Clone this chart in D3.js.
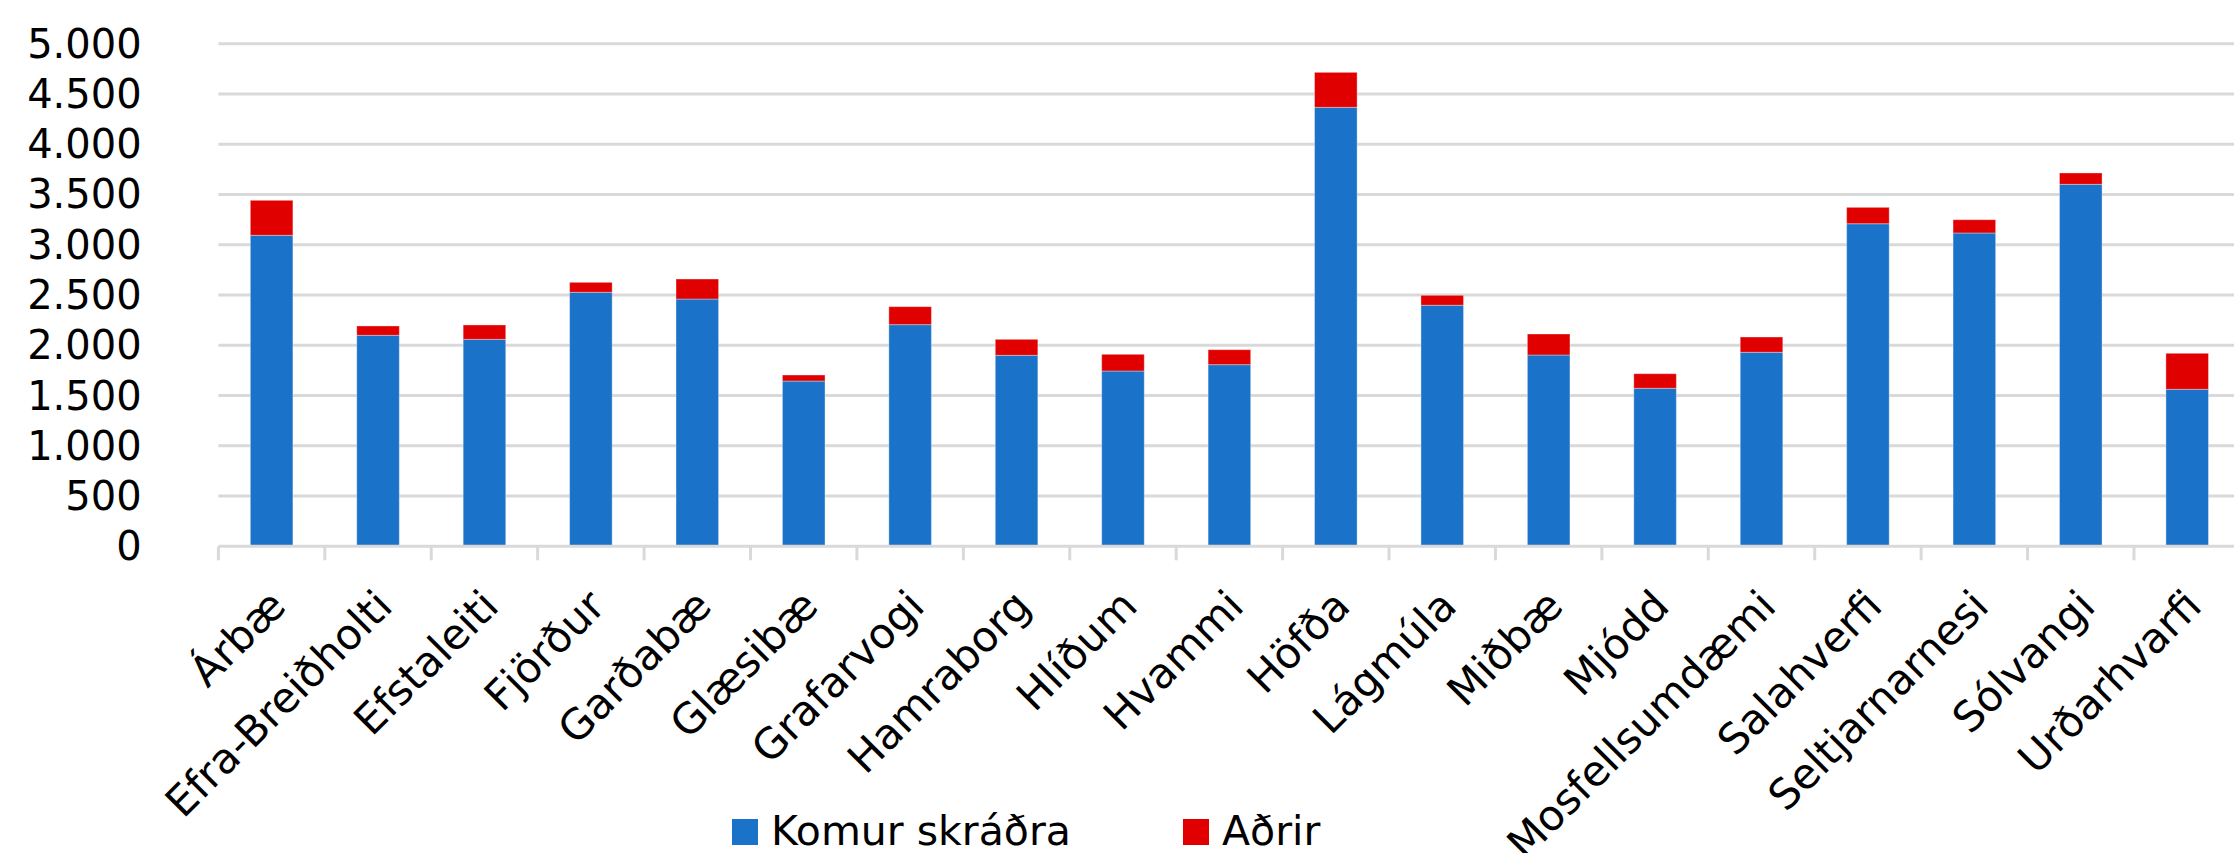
<!DOCTYPE html>
<html>
<head>
<meta charset="utf-8">
<script src="https://cdn.jsdelivr.net/npm/d3@7"></script>
<style>
  html, body { margin: 0; padding: 0; background: #fff; }
  svg { display: block; }
  text { font-family: "DejaVu Sans", Verdana, sans-serif; fill: #000; }
</style>
</head>
<body>
<svg id="chart" width="2234" height="853"></svg>
<script>
const categories = ["Árbæ","Efra-Breiðholti","Efstaleiti","Fjörður","Garðabæ","Glæsibæ","Grafarvogi","Hamraborg","Hlíðum","Hvammi","Höfða","Lágmúla","Miðbæ","Mjódd","Mosfellsumdæmi","Salahverfi","Seltjarnarnesi","Sólvangi","Urðarhvarfi"];
const komurSkradra = [3094, 2099, 2059, 2527, 2460, 1644, 2205, 1900, 1744, 1807, 4367, 2398, 1903, 1572, 1930, 3209, 3117, 3601, 1562];
const adrir = [348, 93, 143, 99, 199, 60, 179, 159, 166, 149, 348, 99, 209, 145, 152, 163, 132, 113, 358];
const seriesNames = ["Komur skráðra", "Aðrir"];
const seriesColors = ["#1a73c8", "#e00000"];
const yTicks = [0, 500, 1000, 1500, 2000, 2500, 3000, 3500, 4000, 4500, 5000];

const svg = d3.select("#chart");
const W = 2234, H = 853;
svg.append("rect").attr("width", W).attr("height", H).attr("fill", "#fff");

const plotLeft = 218.4, plotRight = 2240.4, plotBottom = 546.3, plotTop = 43.7;

const x = d3.scaleBand().domain(categories).range([plotLeft, plotRight])
  .paddingInner(0.6).paddingOuter(0.3);
const y = d3.scaleLinear().domain([0, 5000]).range([plotBottom, plotTop]);

const locale = d3.formatLocale({decimal: ",", thousands: ".", grouping: [3], currency: ["", ""]});
const fmt = locale.format(",d");

// gridlines
svg.append("g").selectAll("line").data(yTicks.filter(d => d > 0)).join("line")
  .attr("x1", plotLeft).attr("x2", plotRight)
  .attr("y1", d => y(d)).attr("y2", d => y(d))
  .attr("stroke", "#d9d9d9").attr("stroke-width", 3);

// y labels
svg.append("g").selectAll("text").data(yTicks).join("text")
  .attr("x", 141.7).attr("y", d => y(d)).attr("dy", "0.35em")
  .attr("text-anchor", "end").attr("font-size", 40)
  .text(d => fmt(d));

// stacked data
const table = categories.map((c, i) => ({cat: c, komur: komurSkradra[i], adrir: adrir[i]}));
const stack = d3.stack().keys(["komur", "adrir"])(table);

svg.append("g").selectAll("g").data(stack).join("g")
  .attr("fill", (d, i) => seriesColors[i])
  .selectAll("rect").data(d => d).join("rect")
  .attr("x", d => x(d.data.cat))
  .attr("width", x.bandwidth())
  .attr("y", d => y(d[1]))
  .attr("height", d => y(d[0]) - y(d[1]))
  .attr("stroke", "rgba(255,255,255,0.35)").attr("stroke-width", 1);

// x axis line
svg.append("line").attr("x1", plotLeft).attr("x2", plotRight)
  .attr("y1", plotBottom).attr("y2", plotBottom)
  .attr("stroke", "#d9d9d9").attr("stroke-width", 3);

// tick marks at category boundaries
const boundaries = categories.map(c => x(c) + x.bandwidth() / 2 - x.step() / 2);
boundaries.push(x(categories[categories.length - 1]) + x.bandwidth() / 2 + x.step() / 2);
svg.append("g").selectAll("line").data(boundaries).join("line")
  .attr("x1", d => d).attr("x2", d => d)
  .attr("y1", plotBottom).attr("y2", plotBottom + 14)
  .attr("stroke", "#d9d9d9").attr("stroke-width", 3);

// x labels
svg.append("g").selectAll("text").data(categories).join("text")
  .attr("transform", d => `translate(${x(d) + x.bandwidth() / 2 + 6},${598}) rotate(-45)`)
  .attr("text-anchor", "end").attr("dy", "0.35em").attr("font-size", 42)
  .text(d => d);

// legend
const legendX = [732, 1183];
const lg = svg.append("g").selectAll("g").data(seriesNames).join("g")
  .attr("transform", (d, i) => `translate(${legendX[i]},819)`);
lg.append("rect").attr("width", 26).attr("height", 26).attr("fill", (d, i) => seriesColors[i]);
lg.append("text").attr("x", 39).attr("y", 26).attr("font-size", 41).text(d => d);
</script>
</body>
</html>
